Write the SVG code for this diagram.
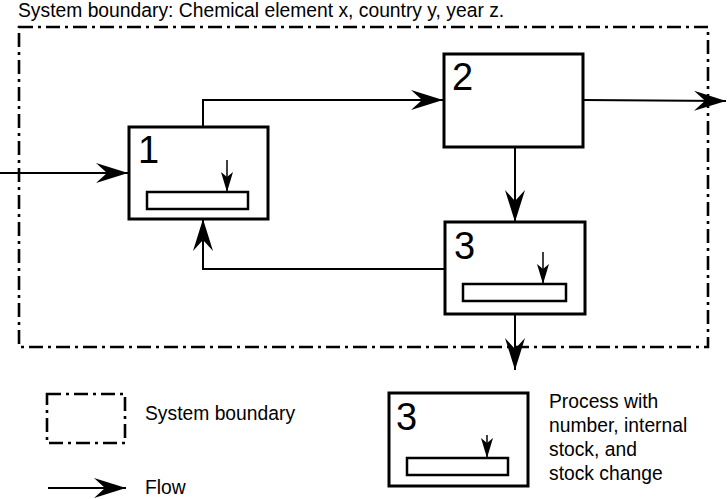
<svg xmlns="http://www.w3.org/2000/svg" width="728" height="499" viewBox="0 0 728 499">
<defs>
<style>
text{font-family:"Liberation Sans",Arial,sans-serif;fill:#000}
.lbl{font-size:19.3px}
.num{font-size:38px}
.box{fill:#fff;stroke:#000;stroke-width:3}
.stock{fill:#fff;stroke:#000;stroke-width:2.5}
.flow{fill:none;stroke:#000;stroke-width:2;marker-end:url(#ah)}
.sflow{fill:none;stroke:#000;stroke-width:1.5;marker-end:url(#sh)}
.bnd{fill:none;stroke:#000;stroke-width:2.6;stroke-dasharray:14 5 3 5}
</style>
<marker id="ah" viewBox="-32 -11 33 22" refX="0" refY="0" markerWidth="33" markerHeight="22" markerUnits="userSpaceOnUse" orient="auto">
<path d="M0,0 L-32,-10 L-21,0 L-32,10 Z" fill="#000"/>
</marker>
<marker id="sh" viewBox="-20 -7 21 14" refX="0" refY="0" markerWidth="21" markerHeight="14" markerUnits="userSpaceOnUse" orient="auto">
<path d="M0,0 L-20,-6 L-15,0 L-20,6 Z" fill="#000"/>
</marker>
</defs>
<rect width="728" height="499" fill="#fff"/>
<text class="lbl" x="18" y="16.5">System boundary: Chemical element x, country y, year z.</text>
<rect class="bnd" x="19" y="27" width="689" height="320"/>
<g id="connectors">
<path class="flow" d="M0,173 L128,173"/>
<path class="flow" d="M203,126 L203,100 L443,100"/>
<path class="flow" d="M583,100 L726,101"/>
<path class="flow" d="M515,147 L515,222"/>
<path class="flow" d="M445,269 L203,269 L203,219"/>
<path class="flow" d="M515,314 L515,370"/>
</g>
<g id="p1">
<rect class="box" x="129" y="127" width="139" height="92"/>
<text class="num" x="138" y="163">1</text>
<rect class="stock" x="147" y="192" width="101" height="17"/>
<path class="sflow" d="M227,160 L227,192"/>
</g>
<g id="p2">
<rect class="box" x="444" y="54" width="139" height="93"/>
<text class="num" x="452" y="90">2</text>
</g>
<g id="p3">
<rect class="box" x="445" y="222" width="140" height="92"/>
<text class="num" x="454" y="259">3</text>
<rect class="stock" x="463" y="284" width="103" height="17"/>
<path class="sflow" d="M543,252 L543,284"/>
</g>
<g id="legend">
<rect class="bnd" x="47" y="394" width="78" height="49"/>
<text class="lbl" x="145" y="420">System boundary</text>
<path class="flow" d="M48,488 L126,488"/>
<text class="lbl" x="145" y="494">Flow</text>
<g id="legend-process">
<rect class="box" x="389" y="393" width="139" height="93"/>
<text class="num" x="396" y="430">3</text>
<rect class="stock" x="407" y="458" width="101" height="17"/>
<path class="sflow" d="M487,435 L487,458"/>
</g>
<text class="lbl" x="549" y="408">Process with</text>
<text class="lbl" x="549" y="432">number, internal</text>
<text class="lbl" x="549" y="456">stock, and</text>
<text class="lbl" x="549" y="480">stock change</text>
</g>
</svg>
